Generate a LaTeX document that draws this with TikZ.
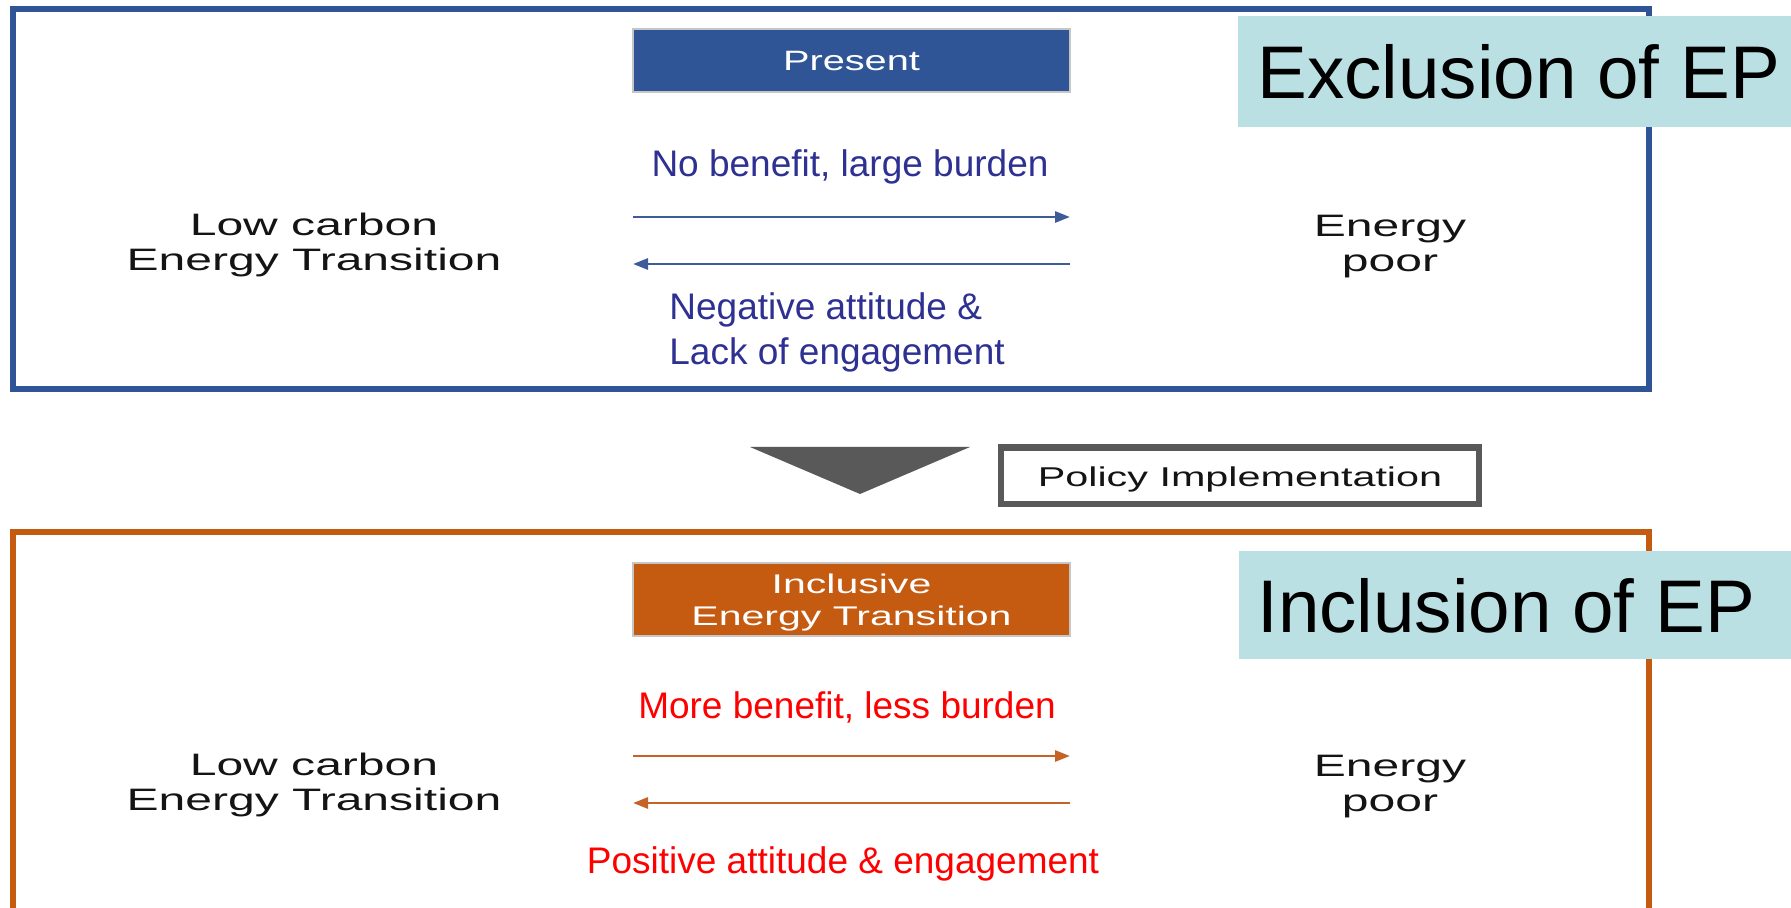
\documentclass[tikz,border=0pt]{standalone}
\usepackage{fontspec}
\setmainfont{Liberation Sans}
\newfontfamily\widesans[FakeStretch=1.55]{Liberation Sans}
\newfontfamily\boxsans[FakeStretch=1.52]{Liberation Sans}
\newfontfamily\headsans[FakeStretch=1.42]{Liberation Sans}
\usetikzlibrary{arrows.meta}

\definecolor{frameblue}{RGB}{47,85,151}
\definecolor{frameorange}{RGB}{197,90,17}
\definecolor{arrowblue}{RGB}{62,92,152}
\definecolor{arroworange}{RGB}{196,98,40}
\definecolor{tealfill}{RGB}{187,224,227}
\definecolor{indigotext}{RGB}{46,49,146}
\definecolor{redtext}{RGB}{255,0,0}
\definecolor{darkgray}{RGB}{89,89,89}
\definecolor{labelblack}{RGB}{20,20,20}

\tikzset{
  frame/.style={line width=3pt},
  % two-line labels: anchor=base sits on the last line's baseline
  sidelabel/.style={font=\widesans\fontsize{15.5}{17.5}\selectfont, text=labelblack,
    align=center, inner sep=0pt, anchor=base},
  flowlabel/.style={font=\fontsize{18.5}{22.5}\selectfont, inner sep=0pt, anchor=base},
  eplabel/.style={font=\fontsize{37.3}{40}\selectfont, text=black, inner sep=0pt,
    anchor=base west},
  headbox/.style={draw=gray!45, line width=0.6pt, text=white, inner sep=0pt,
    minimum width=218.5pt},
  flowarrow/.style={line width=1.4pt, -{Triangle[length=7.5pt,width=5.5pt]}},
  policybox/.style={draw=darkgray, line width=3pt, fill=white, inner sep=0pt,
    minimum width=239pt, minimum height=28pt, text=labelblack,
    font=\boxsans\fontsize{13.6}{16}\selectfont, text height=14pt, text depth=2.5pt}
}

\begin{document}
\begin{tikzpicture}[x=0.5pt, y=-0.5pt]
  \useasboundingbox (0,0) rectangle (1791,908);
  \clip (0,0) rectangle (1791,908);

  % ---------- upper panel: present situation ----------
  \draw[frame, frameblue] (13,9.5) rectangle (1649,389);
  \fill[tealfill] (1238,16) rectangle (1800,127);
  \node[eplabel] (exclusion) at (1257,99) {Exclusion of EP};

  \node[headbox, fill=frameblue, minimum height=31.5pt,
        font=\headsans\fontsize{14}{16}\selectfont, text height=10.5pt, text depth=0pt]
        (present) at (851.5,60.5) {Present};

  \node[flowlabel, text=indigotext] (nobenefit) at (850,177) {No benefit, large burden};
  \node[flowlabel, text=indigotext, anchor=base west] (negative) at (669,320) {Negative attitude \&};
  \node[flowlabel, text=indigotext, anchor=base west] (lack) at (669,365) {Lack of engagement};

  \node[sidelabel] (lctop) at (314,271) {Low carbon\\Energy Transition};
  \node[sidelabel] (eptop) at (1390,272) {Energy\\poor};

  \coordinate (ua) at (633,217);
  \coordinate (ub) at (1070,217);
  \coordinate (uc) at (1070,264);
  \coordinate (ud) at (633,264);
  \draw[flowarrow, arrowblue] (ua) -- (ub);
  \draw[flowarrow, arrowblue] (uc) -- (ud);

  % ---------- transition marker ----------
  \fill[darkgray] (750,447) -- (970,447) -- (860,494) -- cycle;
  \node[policybox] (policy) at (1240,475.5) {Policy Implementation};

  % ---------- lower panel: inclusive transition ----------
  \draw[frame, frameorange] (13,532) rectangle (1649,990);
  \fill[tealfill] (1239,551) rectangle (1800,659);
  \node[eplabel] (inclusion) at (1257,632) {Inclusion of EP};

  \node[headbox, fill=frameorange, minimum height=36.5pt] (inclusive) at (851.5,599.5) {};
  \node[sidelabel, text=white, font=\boxsans\fontsize{13.5}{16}\selectfont]
        (inclusivetext) at (851.5,625) {Inclusive\\Energy Transition};

  \node[flowlabel, text=redtext] (morebenefit) at (847,718) {More benefit, less burden};
  \node[flowlabel, text=redtext] (positive) at (843,873) {Positive attitude \& engagement};

  \node[sidelabel] (lcbottom) at (314,810) {Low carbon\\Energy Transition};
  \node[sidelabel] (epbottom) at (1390,811) {Energy\\poor};

  \coordinate (la) at (633,756);
  \coordinate (lb) at (1070,756);
  \coordinate (lc) at (1070,803);
  \coordinate (ld) at (633,803);
  \draw[flowarrow, arroworange] (la) -- (lb);
  \draw[flowarrow, arroworange] (lc) -- (ld);
\end{tikzpicture}
\end{document}
